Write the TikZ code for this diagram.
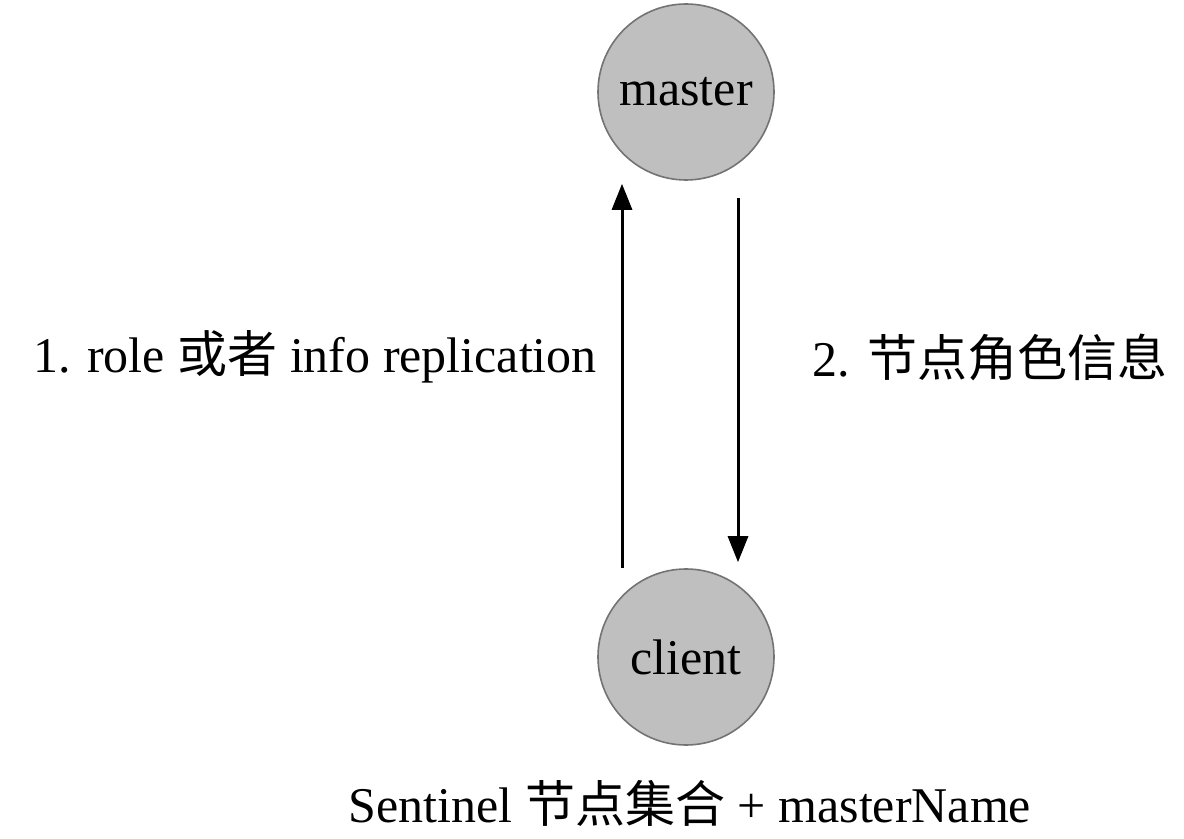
\documentclass[tikz,border=0pt]{standalone}
\usepackage{fontspec}
\setmainfont{Liberation Serif}
\newfontfamily\cjk{Noto Sans CJK SC}
\usetikzlibrary{arrows.meta}

\tikzset{
  role/.style={circle, draw=black!55, line width=0.8pt, fill=black!25,
    minimum size=88pt, inner sep=0pt, font=\fontsize{25}{30}\selectfont},
  msg/.style={-{Triangle[length=13pt, width=10pt]}, line width=1.5pt},
  lbl/.style={font=\fontsize{25}{30}\selectfont, inner sep=0pt}
}

\begin{document}
\begin{tikzpicture}[x=0.5pt, y=-0.5pt]
    \useasboundingbox (0, 0) rectangle (1184, 839);
    % the two ends
    \node [role] (master) at (686, 92) {master};
    \node [role] (client) at (686, 657) {client};
    % request and reply
    \draw [msg] ([xshift=-32pt]client.north) -- ([xshift=-32pt, yshift=-1.5pt]master.south);
    \draw [msg] ([xshift=26pt, yshift=-8.5pt]master.south) -- ([xshift=26pt, yshift=3pt]client.north);
    \node [lbl] (ask) at (315, 357) {1. role {\cjk 或者} info replication};
    \node [lbl] (answer) at (990, 357) {2. {\cjk 节点角色信息}};
    \node [lbl] (given) at (690, 803) {Sentinel {\cjk 节点集合} + masterName};
\end{tikzpicture}
\end{document}
